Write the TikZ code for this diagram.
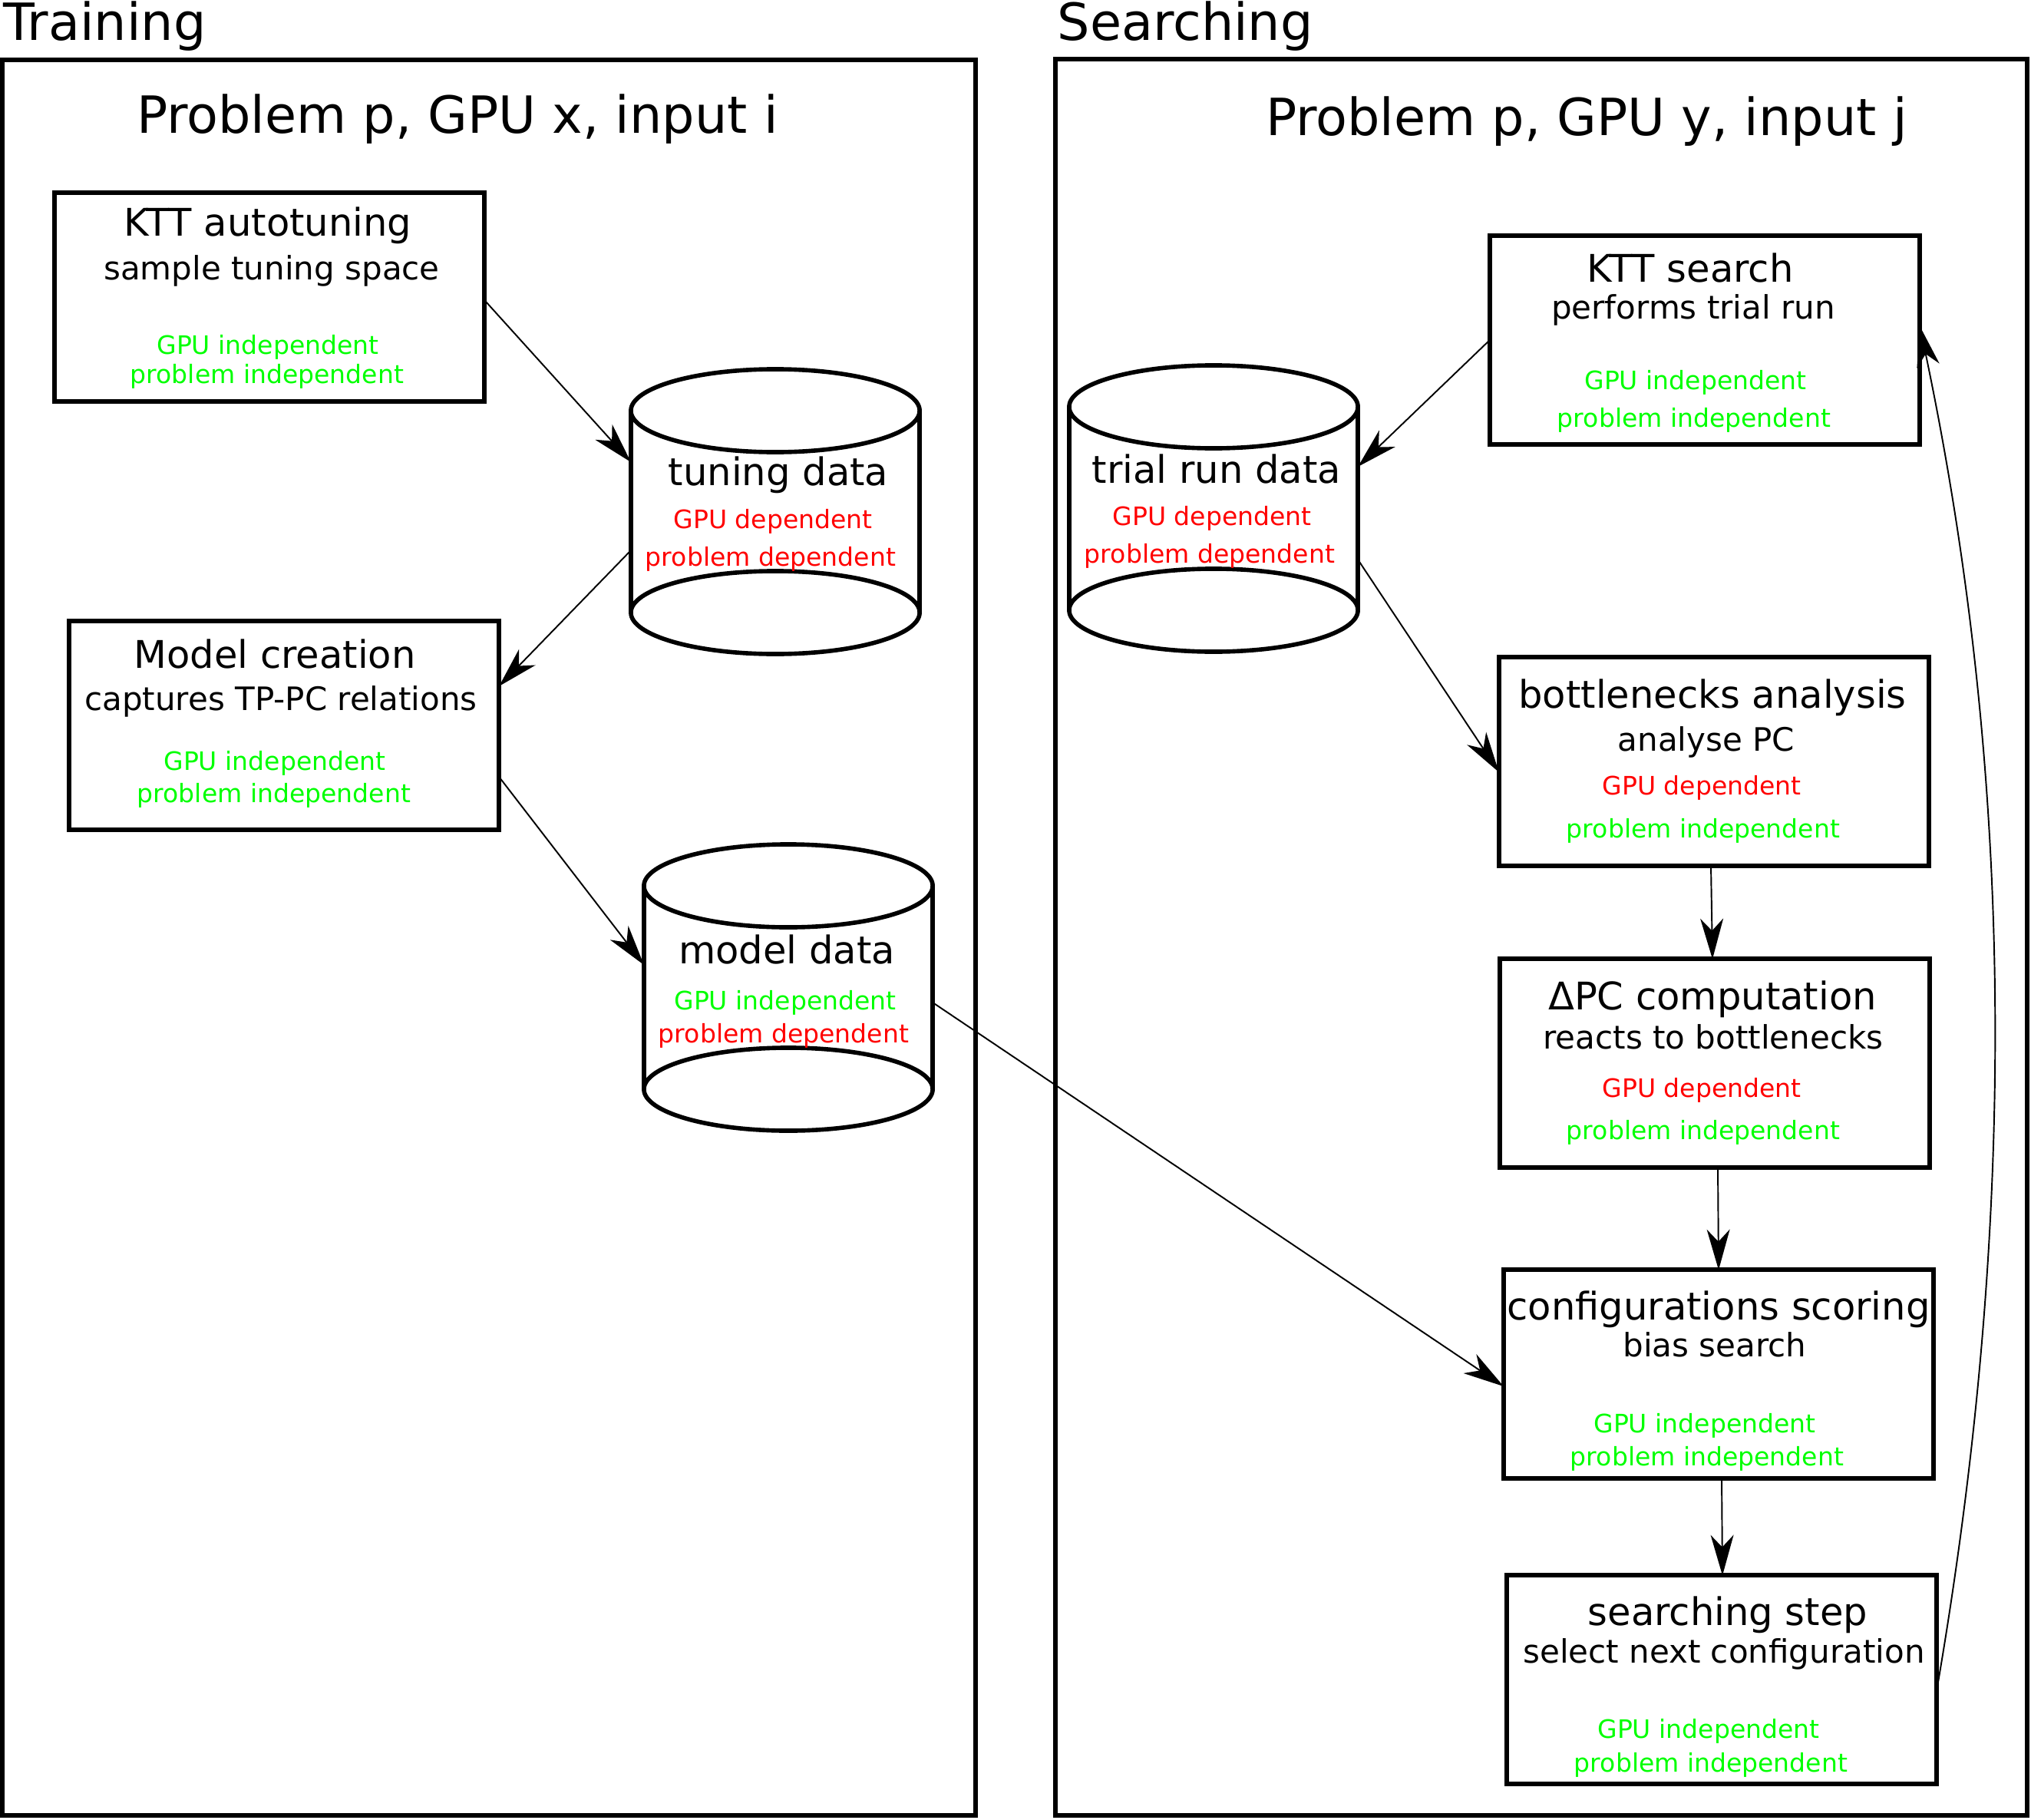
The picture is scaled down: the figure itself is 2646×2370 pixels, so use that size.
\documentclass[tikz,border=0pt]{standalone}
\usepackage{fontspec}
\setmainfont{DejaVu Sans}
\usetikzlibrary{arrows.meta}
\definecolor{depred}{RGB}{255,0,0}
\definecolor{indgreen}{RGB}{0,255,0}
\begin{document}
\begin{tikzpicture}[x=0.01cm,y=-0.01cm,
  frame/.style={draw, line width=1.7pt, inner sep=0pt, outer sep=0pt},
  box/.style={draw, line width=1.7pt, minimum width=5.6cm, minimum height=2.71cm, inner sep=0pt, outer sep=0pt},
  cylbody/.style={inner sep=0pt, outer sep=0pt, minimum width=3.76cm},
  cyl/.style={line width=1.6pt},
  bigtxt/.style={inner sep=0pt, font=\fontsize{19}{22}\selectfont},
  ttl/.style={inner sep=0pt, anchor=base, font=\fontsize{14.1}{16}\selectfont},
  subt/.style={inner sep=0pt, anchor=base, font=\fontsize{11.95}{14}\selectfont},
  tagt/.style={inner sep=0pt, anchor=base, font=\fontsize{9.4}{11}\selectfont},
  dep/.style={tagt, text=depred},
  ind/.style={tagt, text=indgreen},
  conn/.style={-{Stealth[length=15pt,width=8.5pt,inset=4.5pt]}, line width=0.55pt}
]
\useasboundingbox (0,0) rectangle (2646,2370);

% frames
\node[frame, minimum width=12.68cm, minimum height=22.85cm] (trainframe) at (637,1221.5) {};
\node[frame, minimum width=12.66cm, minimum height=22.86cm] (searchframe) at (2008,1221) {};
\node[bigtxt, anchor=base west] (trainlbl) at (4,53) {Training};
\node[bigtxt, anchor=base west] (searchlbl) at (1377,53) {Searching};
\node[bigtxt, anchor=base] (ttrain) at (596,174) {Problem p, GPU x, input i};
\node[bigtxt, anchor=base] (tsearch) at (2067,177) {Problem p, GPU y, input j};

% boxes
\node[box] (ktt) at (351,387) {};
\node[box] (mc) at (370,945) {};
\node[box] (ks) at (2221,443) {};
\node[box] (bn) at (2233,992) {};
\node[box] (dpc) at (2234,1385) {};
\node[box] (cs) at (2239,1790) {};
\node[box] (ss) at (2243,2188) {};

% cylinders
\node[cylbody, minimum height=3.71cm] (tun) at (1010,666.5) {};
\draw[cyl] (1010,535) ellipse [x radius=1.88cm, y radius=0.54cm];
\draw[cyl] (1010,798) ellipse [x radius=1.88cm, y radius=0.54cm];
\draw[cyl] (822,535) -- (822,798);
\draw[cyl] (1198,535) -- (1198,798);

\node[cylbody, minimum height=3.73cm] (md) at (1027,1286.5) {};
\draw[cyl] (1027,1154) ellipse [x radius=1.88cm, y radius=0.54cm];
\draw[cyl] (1027,1419) ellipse [x radius=1.88cm, y radius=0.54cm];
\draw[cyl] (839,1154) -- (839,1419);
\draw[cyl] (1215,1154) -- (1215,1419);

\node[cylbody, minimum height=3.73cm] (tr) at (1581,662.5) {};
\draw[cyl] (1581,530) ellipse [x radius=1.88cm, y radius=0.54cm];
\draw[cyl] (1581,795) ellipse [x radius=1.88cm, y radius=0.54cm];
\draw[cyl] (1393,530) -- (1393,795);
\draw[cyl] (1769,530) -- (1769,795);

% texts: KTT autotuning
\node[ttl] (ktt1) at (349,308) {KTT autotuning};
\node[subt] (ktt2) at (354,365) {sample tuning space};
\node[ind] (ktt3) at (349,462) {GPU independent};
\node[ind] (ktt4) at (348,499) {problem independent};
% tuning data
\node[ttl] (tun1) at (1014,632) {tuning data};
\node[dep] (tun2) at (1007,688) {GPU dependent};
\node[dep] (tun3) at (1004,737) {problem dependent};
% model creation
\node[ttl] (mc1) at (358,870) {Model creation};
\node[subt] (mc2) at (366,925) {captures TP-PC relations};
\node[ind] (mc3) at (358,1003) {GPU independent};
\node[ind] (mc4) at (357,1045) {problem independent};
% model data
\node[ttl] (md1) at (1025,1255) {model data};
\node[ind] (md2) at (1023,1315) {GPU independent};
\node[dep] (md3) at (1021,1358) {problem dependent};
% KTT search
\node[ttl] (ks1) at (2202,367) {KTT search};
\node[subt] (ks2) at (2206,416) {performs trial run};
\node[ind] (ks3) at (2209,507) {GPU independent};
\node[ind] (ks4) at (2207,556) {problem independent};
% trial run data
\node[ttl] (tr1) at (1585,629) {trial run data};
\node[dep] (tr2) at (1579,684) {GPU dependent};
\node[dep] (tr3) at (1576,733) {problem dependent};
% bottlenecks
\node[ttl] (bn1) at (2231,922) {bottlenecks analysis};
\node[subt] (bn2) at (2223,978) {analyse PC};
\node[dep] (bn3) at (2217,1035) {GPU dependent};
\node[ind] (bn4) at (2219,1091) {problem independent};
% delta PC
\node[ttl] (dpc1) at (2231,1315) {ΔPC computation};
\node[subt] (dpc2) at (2232,1366) {reacts to bottlenecks};
\node[dep] (dpc3) at (2217,1429) {GPU dependent};
\node[ind] (dpc4) at (2219,1484) {problem independent};
% configurations scoring
\node[ttl] (cs1) at (2239,1719) {configurations scoring};
\node[subt] (cs2) at (2234,1767) {bias search};
\node[ind] (cs3) at (2221,1866) {GPU independent};
\node[ind] (cs4) at (2224,1909) {problem independent};
% searching step
\node[ttl] (ss1) at (2251,2117) {searching step};
\node[subt] (ss2) at (2246,2166) {select next configuration};
\node[ind] (ss3) at (2226,2264) {GPU independent};
\node[ind] (ss4) at (2229,2308) {problem independent};

% connectors
\draw[conn] ([yshift=-0.04cm]ktt.east) -- ([yshift=0.645cm]tun.west);
\draw[conn] ([yshift=-0.505cm]tun.west) -- ([yshift=0.51cm]mc.east);
\draw[conn] ([yshift=-0.67cm]mc.east) -- ([yshift=0.295cm]md.west);
\draw[conn] ([yshift=-0.195cm]md.east) -- ([yshift=-0.16cm]cs.west);
\draw[conn] (ks.west) -- ([yshift=0.545cm]tr.east);
\draw[conn] ([yshift=-0.665cm]tr.east) -- ([yshift=-0.14cm]bn.west);
\draw[conn] ([xshift=-0.04cm]bn.south) -- ([xshift=-0.03cm]dpc.north);
\draw[conn] ([xshift=0.04cm]dpc.south) -- (cs.north);
\draw[conn] ([xshift=0.04cm]cs.south) -- ([xshift=0.01cm]ss.north);
\draw[conn] ([yshift=-0.14cm]ss.east) .. controls (2627,1600) and (2627,1025) .. ([yshift=0.18cm]ks.east);
\end{tikzpicture}
\end{document}
